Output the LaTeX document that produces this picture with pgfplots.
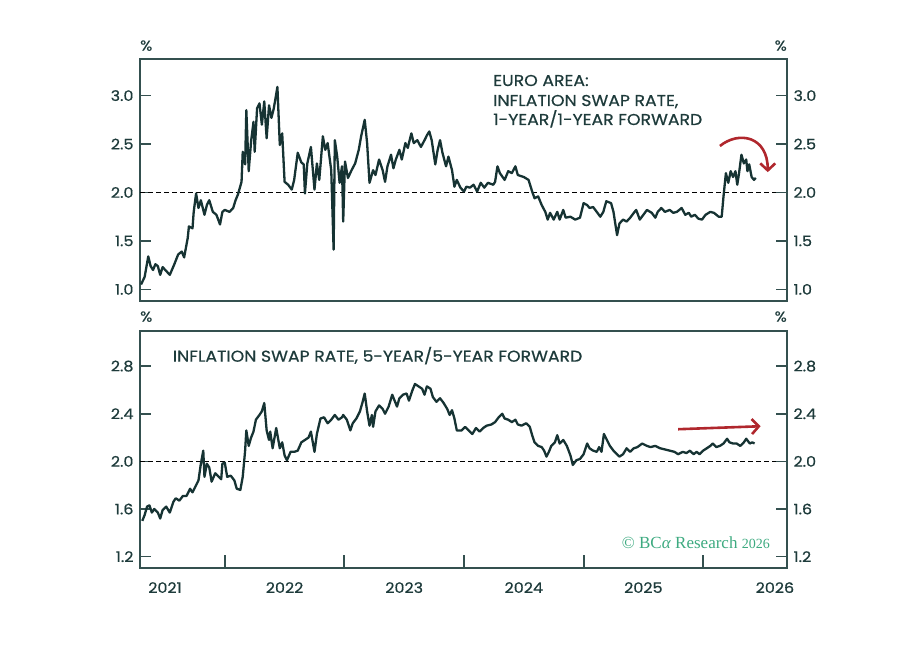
\documentclass[border=0pt]{standalone}
\usepackage{pgfplots}
\pgfplotsset{compat=1.18}
\usepackage{fontspec}
\setmainfont{Poppins}[FakeStretch=1.1, FakeBold=0.6]
\newfontfamily\serifc{Liberation Serif}
\usetikzlibrary{arrows.meta}
\definecolor{txt}{HTML}{1E3B3B}
\definecolor{frame}{HTML}{34504F}
\definecolor{series}{HTML}{163333}
\definecolor{arrred}{HTML}{B0272D}
\definecolor{bcagreen}{HTML}{3DAA80}
\newcommand\ticksize{\fontsize{14.5}{16}\selectfont}
\newcommand\titlesize{\fontsize{15.7}{18}\selectfont}

\pgfplotstableread{
x y
2020.80 1.05
2020.83 1.13
2020.86 1.34
2020.88 1.24
2020.90 1.20
2020.92 1.26
2020.94 1.24
2020.96 1.15
2020.98 1.23
2021.01 1.19
2021.04 1.15
2021.075 1.25
2021.11 1.36
2021.14 1.39
2021.16 1.33
2021.19 1.53
2021.20 1.65
2021.23 1.63
2021.24 1.80
2021.26 1.99
2021.28 1.84
2021.30 1.92
2021.33 1.77
2021.35 1.87
2021.37 1.92
2021.40 1.80
2021.43 1.77
2021.46 1.67
2021.48 1.80
2021.50 1.82
2021.54 1.80
2021.57 1.84
2021.59 1.92
2021.61 1.98
2021.64 2.11
2021.65 2.42
2021.67 2.29
2021.68 2.85
2021.70 2.22
2021.72 2.53
2021.74 2.73
2021.75 2.42
2021.77 2.87
2021.79 2.92
2021.81 2.70
2021.83 2.94
2021.85 2.56
2021.87 2.90
2021.89 2.77
2021.91 2.87
2021.94 3.09
2021.96 2.49
2021.98 2.61
2022.00 2.11
2022.03 2.08
2022.06 2.03
2022.08 2.13
2022.11 2.41
2022.14 2.31
2022.16 2.29
2022.17 1.99
2022.19 2.30
2022.22 2.47
2022.25 2.03
2022.27 2.30
2022.29 2.13
2022.32 2.58
2022.34 2.44
2022.36 2.51
2022.39 2.23
2022.41 1.41
2022.42 2.54
2022.44 2.37
2022.46 2.10
2022.48 2.27
2022.49 1.70
2022.505 2.32
2022.53 2.15
2022.56 2.23
2022.59 2.30
2022.62 2.44
2022.64 2.58
2022.67 2.75
2022.69 2.51
2022.71 2.10
2022.74 2.23
2022.76 2.18
2022.79 2.34
2022.82 2.23
2022.84 2.11
2022.86 2.27
2022.89 2.39
2022.91 2.25
2022.93 2.34
2022.96 2.44
2022.98 2.34
2023.01 2.51
2023.03 2.46
2023.06 2.61
2023.08 2.51
2023.11 2.54
2023.14 2.47
2023.17 2.54
2023.19 2.59
2023.21 2.63
2023.23 2.54
2023.26 2.29
2023.28 2.44
2023.30 2.54
2023.32 2.41
2023.35 2.27
2023.37 2.37
2023.40 2.23
2023.42 2.06
2023.44 2.13
2023.47 2.05
2023.50 2.01
2023.52 2.06
2023.55 2.05
2023.58 2.08
2023.61 2.01
2023.64 2.10
2023.67 2.05
2023.70 2.10
2023.745 2.08
2023.76 2.11
2023.78 2.27
2023.80 2.20
2023.84 2.13
2023.87 2.22
2023.90 2.20
2023.93 2.27
2023.95 2.18
2024.00 2.16
2024.04 2.13
2024.07 2.01
2024.09 1.94
2024.12 1.96
2024.15 1.87
2024.18 1.80
2024.20 1.72
2024.22 1.79
2024.25 1.72
2024.28 1.80
2024.30 1.72
2024.33 1.82
2024.35 1.74
2024.39 1.75
2024.43 1.72
2024.47 1.74
2024.50 1.89
2024.53 1.87
2024.55 1.84
2024.58 1.85
2024.61 1.80
2024.64 1.75
2024.665 1.80
2024.69 1.91
2024.73 1.89
2024.75 1.80
2024.78 1.56
2024.80 1.68
2024.83 1.72
2024.86 1.70
2024.89 1.74
2024.92 1.79
2024.94 1.82
2024.97 1.72
2025.00 1.77
2025.03 1.82
2025.07 1.79
2025.10 1.74
2025.12 1.80
2025.15 1.84
2025.18 1.80
2025.22 1.82
2025.25 1.79
2025.28 1.80
2025.32 1.84
2025.35 1.77
2025.38 1.79
2025.40 1.75
2025.43 1.77
2025.46 1.73
2025.49 1.72
2025.52 1.77
2025.56 1.80
2025.59 1.79
2025.63 1.75
2025.655 1.75
2025.67 1.96
2025.69 2.20
2025.71 2.10
2025.73 2.22
2025.75 2.16
2025.77 2.22
2025.785 2.08
2025.80 2.20
2025.82 2.39
2025.84 2.30
2025.86 2.34
2025.87 2.22
2025.885 2.29
2025.905 2.16
2025.925 2.13
2025.94 2.15
}\oneyear

\pgfplotstableread{
x y
2020.81 1.50
2020.83 1.55
2020.85 1.62
2020.87 1.63
2020.89 1.57
2020.91 1.60
2020.94 1.57
2020.96 1.52
2020.98 1.59
2021.01 1.62
2021.04 1.57
2021.07 1.66
2021.09 1.69
2021.12 1.67
2021.15 1.71
2021.18 1.71
2021.21 1.77
2021.23 1.74
2021.26 1.80
2021.28 1.84
2021.30 1.98
2021.32 2.09
2021.33 1.87
2021.35 1.98
2021.37 1.95
2021.39 1.83
2021.42 1.90
2021.44 1.88
2021.47 1.85
2021.48 1.98
2021.50 1.99
2021.52 1.87
2021.55 1.88
2021.58 1.84
2021.60 1.77
2021.63 1.76
2021.65 1.87
2021.67 2.09
2021.68 2.26
2021.70 2.13
2021.72 2.20
2021.74 2.25
2021.76 2.35
2021.79 2.39
2021.81 2.42
2021.83 2.49
2021.85 2.26
2021.87 2.18
2021.88 2.25
2021.90 2.11
2021.93 2.28
2021.96 2.11
2021.98 2.16
2022.00 2.05
2022.02 2.01
2022.05 2.08
2022.08 2.08
2022.11 2.09
2022.14 2.16
2022.17 2.18
2022.20 2.20
2022.22 2.25
2022.25 2.08
2022.27 2.23
2022.30 2.36
2022.33 2.37
2022.36 2.32
2022.39 2.35
2022.42 2.39
2022.45 2.35
2022.48 2.37
2022.49 2.39
2022.52 2.35
2022.55 2.26
2022.57 2.32
2022.60 2.36
2022.63 2.42
2022.65 2.49
2022.67 2.57
2022.69 2.42
2022.71 2.30
2022.73 2.39
2022.74 2.29
2022.76 2.42
2022.79 2.47
2022.82 2.44
2022.84 2.40
2022.87 2.46
2022.90 2.56
2022.92 2.51
2022.94 2.46
2022.96 2.53
2022.99 2.56
2023.02 2.57
2023.04 2.51
2023.07 2.60
2023.09 2.65
2023.12 2.63
2023.15 2.61
2023.17 2.56
2023.19 2.63
2023.22 2.61
2023.24 2.54
2023.27 2.50
2023.30 2.53
2023.33 2.49
2023.36 2.44
2023.38 2.39
2023.40 2.43
2023.42 2.36
2023.44 2.26
2023.48 2.26
2023.51 2.29
2023.54 2.26
2023.57 2.23
2023.60 2.28
2023.63 2.25
2023.66 2.28
2023.69 2.30
2023.73 2.31
2023.76 2.33
2023.79 2.37
2023.82 2.40
2023.84 2.36
2023.87 2.35
2023.90 2.33
2023.93 2.35
2023.95 2.31
2023.98 2.30
2024.02 2.32
2024.05 2.29
2024.07 2.22
2024.09 2.16
2024.12 2.13
2024.15 2.12
2024.17 2.09
2024.19 2.04
2024.21 2.08
2024.23 2.13
2024.26 2.16
2024.28 2.22
2024.30 2.15
2024.33 2.18
2024.36 2.13
2024.39 2.05
2024.41 1.97
2024.44 2.01
2024.47 2.02
2024.50 2.06
2024.53 2.15
2024.55 2.11
2024.58 2.09
2024.61 2.08
2024.63 2.12
2024.65 2.08
2024.67 2.23
2024.69 2.19
2024.72 2.13
2024.75 2.09
2024.78 2.06
2024.80 2.04
2024.83 2.06
2024.86 2.11
2024.89 2.08
2024.92 2.11
2024.95 2.12
2024.99 2.15
2025.03 2.13
2025.06 2.12
2025.10 2.13
2025.14 2.11
2025.18 2.10
2025.22 2.09
2025.26 2.08
2025.29 2.06
2025.33 2.08
2025.36 2.07
2025.39 2.09
2025.42 2.06
2025.445 2.08
2025.47 2.06
2025.50 2.09
2025.53 2.11
2025.56 2.13
2025.58 2.15
2025.61 2.12
2025.64 2.13
2025.67 2.15
2025.70 2.19
2025.72 2.16
2025.75 2.15
2025.78 2.15
2025.81 2.13
2025.84 2.16
2025.86 2.19
2025.89 2.15
2025.91 2.16
2025.93 2.15
}\fiveyear

\pgfplotsset{
  panel/.style={
    scale only axis, width=647pt, anchor=south west,
    xmin=2020.791, xmax=2026.201,
    tick align=inside, major tick length=11pt,
    axis line style={draw=frame, line width=1.7pt},
    every tick/.style={draw=frame, line width=1.7pt},
    /pgf/number format/fixed,
    /pgf/number format/fixed zerofill,
    /pgf/number format/precision=1,
    /pgf/number format/assume math mode=true,
    yticklabel style={font=\ticksize, text=txt},
  },
}

\begin{document}
\begin{tikzpicture}
\useasboundingbox (0,0) rectangle (912pt,653pt);

% ---------- top panel ----------
\begin{axis}[panel, at={(140pt,352pt)}, height=242pt,
  ymin=0.88, ymax=3.378, ytick={1,1.5,2,2.5,3}, ytick pos=left,
  xtick=\empty, yticklabel style={xshift=-3pt}]
\addplot[black, line width=0.9pt, dash pattern=on 4.5pt off 3.5pt] coordinates {(2020.791,2) (2026.201,2)};
\addplot[series, line width=2.3pt, line join=round] table[x=x,y=y] {\oneyear};
\draw[arrred, line width=2.6pt, -{Straight Barb[length=7pt,width=15pt]}]
  (axis cs:2025.64,2.48) .. controls (axis cs:2025.80,2.64) and (axis cs:2026.04,2.58) .. (axis cs:2026.04,2.21);
\end{axis}
\begin{axis}[panel, at={(140pt,352pt)}, height=242pt,
  ymin=0.88, ymax=3.378, ytick={1,1.5,2,2.5,3},
  axis y line*=right, axis x line=none, yticklabel style={xshift=3pt}]
\end{axis}

% ---------- bottom panel ----------
\begin{axis}[panel, at={(140pt,85.3pt)}, height=236.7pt,
  ymin=1.107, ymax=3.095, ytick={1.2,1.6,2.0,2.4,2.8}, ytick pos=left,
  xtick=\empty, yticklabel style={xshift=-3pt}]
\addplot[black, line width=0.9pt, dash pattern=on 4.5pt off 3.5pt] coordinates {(2020.791,2) (2026.201,2)};
\addplot[series, line width=2.3pt, line join=round] table[x=x,y=y] {\fiveyear};
\draw[arrred, line width=2.6pt, -{Straight Barb[length=7pt,width=15pt]}]
  (axis cs:2025.29,2.27) -- (axis cs:2025.98,2.295);
\end{axis}
\begin{axis}[panel, at={(140pt,85.3pt)}, height=236.7pt,
  ymin=1.107, ymax=3.095, ytick={1.2,1.6,2.0,2.4,2.8},
  axis y line*=right, axis x line=none, yticklabel style={xshift=3pt}]
\end{axis}
% year labels
\begin{axis}[panel, at={(140pt,85.3pt)}, height=236.7pt,
  ymin=1.107, ymax=3.095, axis y line=none, axis x line*=bottom,
  axis line style={draw=none},
  xtick={2021,2022,2023,2024,2025,2026.1},
  xticklabels={2021,2022,2023,2024,2025,2026},
  major tick length=0pt,
  xticklabel style={font=\ticksize, text=txt, yshift=-11pt}]
\end{axis}

% half-year tick marks on the bottom edge of the lower panel
\foreach \px in {225,344,464,584,703}{
  \draw[frame, line width=2.5pt] (\px pt,85.3pt) -- (\px pt,97.8pt);
}

% ---------- texts ----------
\begin{scope}[every node/.style={inner sep=0pt, text=txt}]
\node[anchor=base west, font=\titlesize] at (493pt,567pt) {EURO AREA:};
\node[anchor=base west, font=\titlesize] at (493pt,547pt) {INFLATION SWAP RATE,};
\node[anchor=base west, font=\titlesize] at (493pt,528pt) {1-YEAR/1-YEAR FORWARD};
\node[anchor=base west, font=\titlesize] at (172.7pt,291.3pt) {INFLATION SWAP RATE, 5-YEAR/5-YEAR FORWARD};
\node[anchor=base west, font=\ticksize] at (140pt,602.3pt) {\%};
\node[anchor=base east, font=\ticksize] at (787pt,602.3pt) {\%};
\node[anchor=base west, font=\ticksize] at (140pt,331.3pt) {\%};
\node[anchor=base east, font=\ticksize] at (787pt,331.3pt) {\%};
\node[anchor=base west, text=bcagreen, font={\serifc\fontsize{17}{19}\selectfont}] at (621.7pt,104.7pt) {© BC\textit{α} Research {\fontsize{14}{15}\selectfont 2026}};
\end{scope}
\end{tikzpicture}
\end{document}
